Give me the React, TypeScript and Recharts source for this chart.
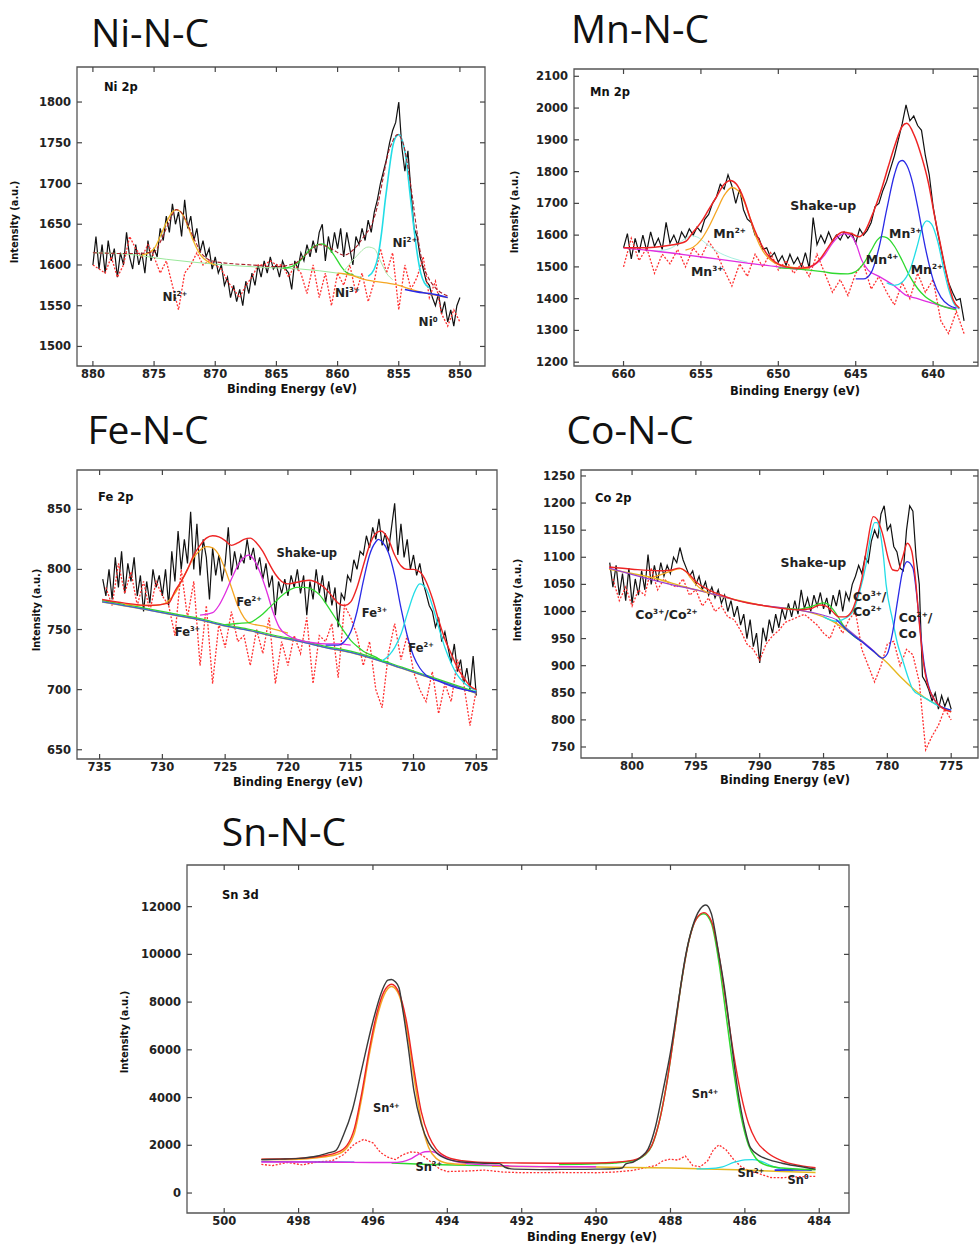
import React from "react";
import { LineChart, Line, XAxis, YAxis, ReferenceArea, ReferenceDot } from "recharts";

type Pt = { x: number; y: number };

const SANS = "'DejaVu Sans', Verdana, sans-serif";

// ---------------- Ni 2p ----------------
const niRawStart = 880;
const niRawStep = 0.25;
const niRaw = [
  1600, 1635, 1595, 1625, 1590, 1630, 1605, 1620,
  1585, 1615, 1600, 1640, 1610, 1595, 1625, 1600,
  1615, 1590, 1630, 1605, 1620, 1610, 1645, 1630,
  1660, 1640, 1675, 1650, 1665, 1635, 1680, 1645,
  1660, 1630, 1645, 1615, 1630, 1610, 1620, 1595,
  1610, 1590, 1600, 1575, 1585, 1560, 1575, 1555,
  1570, 1550, 1580, 1565, 1590, 1575, 1600, 1585,
  1605, 1590, 1610, 1595, 1600, 1585, 1605, 1595,
  1590, 1570, 1605, 1595, 1615, 1605, 1625, 1610,
  1630, 1615, 1640, 1650, 1605, 1635, 1615, 1640,
  1620, 1645, 1610, 1640, 1620, 1600, 1635, 1625,
  1645, 1630, 1655, 1640, 1665, 1680, 1700, 1715,
  1730, 1750, 1765, 1775, 1800, 1745, 1715, 1740,
  1690, 1645, 1635, 1610, 1595, 1580, 1575, 1560,
  1550, 1565, 1540, 1555, 1530, 1545, 1525, 1550,
  1560,
];
const niResStart = 880;
const niResStep = 0.5;
const niRes = [
  1600, 1595, 1590, 1610, 1585, 1600, 1635, 1620,
  1610, 1625, 1610, 1590, 1605, 1575, 1545, 1590,
  1600, 1615, 1600, 1605, 1600, 1595, 1580, 1570,
  1560, 1575, 1585, 1600, 1600, 1605, 1600, 1600,
  1585, 1600, 1590, 1565, 1600, 1560, 1590, 1550,
  1590, 1575, 1600, 1565, 1590, 1555, 1580, 1620,
  1590, 1615, 1545, 1600, 1570, 1585, 1610, 1560,
  1580, 1540, 1525, 1545,
  1530,
];
const niBg = [[880, 1615], [877, 1613], [874, 1607], [870, 1601], [866, 1597], [863, 1595], [860, 1590], [858, 1585]];
const niOrange = [[876, 1612], [875, 1620], [874.5, 1635], [874, 1652], [873.5, 1665], [873.2, 1668], [872.8, 1665], [872.3, 1650], [871.8, 1630], [871.2, 1612], [870.5, 1603], [870, 1600]];
const niGreen = [[864.5, 1596], [864, 1597], [863.5, 1600], [863, 1606], [862.5, 1615], [862, 1622], [861.3, 1626], [860.8, 1622], [860.2, 1610], [859.7, 1598], [859.2, 1590], [858.7, 1588]];
const niPale = [[859.5, 1592], [858.5, 1610], [857.5, 1622], [857, 1620], [856.5, 1605], [856, 1590], [855.5, 1582]];
const niCyan = [[857.5, 1586], [857, 1595], [856.7, 1610], [856.4, 1640], [856.1, 1680], [855.8, 1715], [855.5, 1745], [855.2, 1758], [855, 1760], [854.7, 1752], [854.4, 1730], [854.1, 1690], [853.8, 1650], [853.5, 1615], [853.2, 1590], [852.9, 1578], [852.5, 1572]];
const niBase = [[860, 1590], [859, 1588], [858, 1583], [857, 1580], [856, 1578], [855, 1575], [854, 1570], [853, 1566], [852, 1563], [851, 1560]];
const niBlue = [[854.5, 1570], [853.5, 1567], [852.5, 1565], [851.8, 1563], [851, 1560]];
const niFit = [[880, 1615], [877, 1614], [875, 1616], [874.5, 1628], [874, 1645], [873.5, 1662], [873.2, 1668], [872.8, 1665], [872.2, 1648], [871.6, 1628], [871, 1612], [870, 1604], [867, 1600], [865, 1598], [863.5, 1602], [862.5, 1614], [861.5, 1625], [860.5, 1620], [859.5, 1612], [858.5, 1622], [857.8, 1636], [857.2, 1650], [856.7, 1675], [856.3, 1705], [855.9, 1735], [855.5, 1752], [855.1, 1760], [854.7, 1752], [854.3, 1725], [853.9, 1685], [853.5, 1640], [853.1, 1605], [852.6, 1585], [852, 1572], [851, 1562]];

// ---------------- Mn 2p ----------------
const mnRawStart = 660;
const mnRawStep = 0.25;
const mnRaw = [
  1560, 1605, 1525, 1590, 1545, 1600, 1550, 1610,
  1565, 1590, 1555, 1640, 1575, 1600, 1570, 1610,
  1590, 1620, 1600, 1625, 1610, 1650, 1665, 1700,
  1720, 1760, 1745, 1790, 1755, 1700, 1745, 1680,
  1650, 1640, 1600, 1590, 1555, 1560, 1530, 1545,
  1515, 1535, 1505, 1540, 1510, 1530, 1500, 1545,
  1495, 1655, 1570, 1600, 1575, 1610, 1580, 1600,
  1585, 1610, 1590, 1605, 1575, 1620, 1600, 1615,
  1640, 1690, 1700, 1740, 1770, 1810, 1850, 1900,
  1950, 2010, 1960, 1975, 1945, 1930, 1850, 1790,
  1690, 1620, 1560, 1500, 1450, 1420, 1395, 1400,
  1330,
];
const mnResStart = 660;
const mnResStep = 0.5;
const mnRes = [
  1500, 1590, 1520, 1560, 1480, 1540, 1510, 1555,
  1500, 1560, 1530, 1580, 1545, 1490, 1440, 1510,
  1470, 1540, 1500, 1545, 1490, 1520, 1480, 1510,
  1470, 1540, 1480, 1420, 1460, 1410, 1480, 1510,
  1430, 1470, 1420, 1380, 1450, 1400, 1480, 1420,
  1460, 1330, 1290, 1360, 1290,
];
const mnPale = [[658, 1549], [657, 1558], [656.5, 1572], [656, 1590], [655.6, 1598], [655.2, 1593], [654.7, 1575], [654, 1550], [653, 1528], [652, 1515]];
const mnOrange = [[656, 1553], [655.5, 1562], [655, 1585], [654.5, 1625], [654, 1675], [653.5, 1725], [653, 1750], [652.6, 1740], [652.2, 1705], [651.8, 1650], [651.4, 1590], [651, 1550], [650.5, 1522], [650, 1507], [649, 1498], [648, 1494]];
const mnMagenta = [[660, 1560], [658, 1550], [656, 1538], [654, 1525], [652, 1512], [650, 1500], [648.6, 1493], [648, 1498], [647.5, 1512], [647, 1538], [646.5, 1575], [646, 1600], [645.7, 1605], [645.3, 1598], [645, 1575], [644.6, 1520], [644.2, 1490], [643.5, 1470], [642.5, 1440], [641.8, 1412], [641, 1400], [640, 1385], [639, 1372], [638.5, 1368]];
const mnGreen = [[650, 1497], [648, 1490], [647, 1484], [646.5, 1480], [645.5, 1478], [645, 1485], [644.5, 1510], [644, 1552], [643.6, 1585], [643.3, 1595], [643, 1592], [642.5, 1565], [642, 1520], [641.5, 1470], [641, 1432], [640.5, 1406], [640, 1390], [639.5, 1378], [639, 1370], [638.5, 1365]];
const mnBlue = [[645, 1462], [644.5, 1462], [644, 1482], [643.5, 1560], [643, 1680], [642.5, 1790], [642.2, 1830], [642, 1835], [641.7, 1820], [641.3, 1760], [641, 1690], [640.5, 1560], [640, 1460], [639.5, 1405], [639, 1380], [638.5, 1370]];
const mnCyan = [[643, 1450], [642.5, 1442], [642, 1452], [641.5, 1490], [641, 1570], [640.7, 1625], [640.4, 1645], [640.1, 1635], [639.7, 1580], [639.3, 1490], [639, 1430], [638.6, 1380], [638.3, 1368]];
const mnFit = [[660, 1560], [659, 1560], [658, 1562], [657, 1568], [656, 1580], [655.5, 1610], [655, 1640], [654.5, 1680], [654, 1720], [653.5, 1760], [653.1, 1772], [652.7, 1760], [652.2, 1710], [651.8, 1650], [651.3, 1590], [650.8, 1545], [650.2, 1515], [649.5, 1500], [648.8, 1496], [648, 1500], [647.3, 1525], [646.8, 1560], [646.3, 1595], [645.8, 1610], [645.3, 1605], [644.8, 1595], [644.4, 1612], [644, 1655], [643.3, 1750], [642.9, 1815], [642.5, 1878], [642, 1942], [641.7, 1952], [641.2, 1912], [640.75, 1848], [640.3, 1764], [639.9, 1659], [639.5, 1564], [639.1, 1470], [638.7, 1396], [638.3, 1370]];

// ---------------- Fe 2p ----------------
const feRawStart = 734.75;
const feRawStep = 0.25;
const feRaw = [
  792, 778, 800, 775, 810, 785, 815, 780,
  805, 790, 810, 778, 795, 765, 790, 772,
  800, 785, 795, 778, 800, 770, 815, 790,
  832, 800, 825, 805, 848, 800, 838, 795,
  825, 810, 775, 818, 795, 812, 790, 805,
  835, 795, 815, 800, 812, 805, 825, 808,
  818, 800, 810, 792, 805, 785, 795, 762,
  790, 780, 792, 778, 795, 785, 800, 780,
  795, 762, 790, 775, 800, 780, 795, 772,
  790, 770, 785, 752, 780, 775, 795, 790,
  808, 800, 815, 812, 828, 818, 835, 825,
  842, 820, 830, 815, 835, 855, 812, 838,
  810, 825, 800, 812, 795, 805, 790, 780,
  770, 765, 752, 760, 740, 748, 735, 722,
  738, 715, 725, 705, 718, 700, 728, 695,
];
const feResStart = 734.5;
const feResStep = 0.5;
const feRes = [
  785, 770, 805, 780, 798, 770, 790, 765,
  790, 778, 770, 745, 800, 760, 790, 720,
  770, 705, 755, 735, 765, 740, 745, 720,
  750, 730, 760, 705, 740, 720, 745, 730,
  760, 705, 745, 740, 755, 710, 770, 760,
  745, 720, 740, 700, 685, 730, 755, 725,
  745, 715, 700, 690, 715, 680, 705, 690,
  725, 705, 670, 700,
];
const feBg = [[734.8, 773], [731, 766], [729, 762], [727, 758], [725, 753], [723, 749], [721, 744], [719, 740], [717, 735], [715, 731], [713, 725], [711, 718], [709, 711], [707, 704], [705, 697]];
const feBgGreen = [[734.8, 774], [731, 767], [729, 763], [727, 759], [725, 754], [723, 750], [721, 745], [719, 741], [717, 736], [715, 732], [713, 726], [711, 719], [709, 712], [707, 705], [705, 698]];
const feOrange = [[733, 771], [731, 770], [730, 771], [729.5, 774], [729, 780], [728.5, 790], [728, 800], [727.5, 810], [727, 816], [726.5, 819], [726, 818], [725.5, 812], [725, 800], [724.5, 785], [724, 770], [723.5, 760], [723, 755], [722, 753], [721, 750], [720, 747]];
const feMagenta = [[727, 762], [726, 764], [725.5, 770], [725, 780], [724.5, 792], [724, 803], [723.5, 810], [723.1, 812], [722.7, 808], [722.2, 797], [721.7, 782], [721.2, 765], [720.7, 752], [720, 745], [719, 741], [718, 739], [717, 738], [716, 738], [715, 737]];
const feGreen = [[725, 754], [724, 755], [723, 756], [722.5, 759], [722, 763], [721.5, 768], [721, 773], [720.5, 778], [720, 782], [719.3, 785], [718.7, 785], [718, 783], [717.5, 779], [717, 772], [716.5, 764], [716, 756], [715.5, 748], [715, 741], [714.5, 736], [714, 732], [713, 727], [712.5, 724], [712, 723]];
const feBlue = [[717, 737], [716, 737], [715.5, 740], [715, 748], [714.5, 765], [714, 790], [713.5, 812], [713, 823], [712.8, 825], [712.5, 823], [712, 814], [711.5, 795], [711, 768], [710.5, 745], [710, 728], [709.5, 718], [709, 712], [708, 707], [707, 703], [706, 700], [705, 698]];
const feCyan = [[712.5, 724], [712, 728], [711.5, 735], [711, 746], [710.5, 763], [710, 779], [709.5, 788], [709, 784], [708.5, 770], [708, 752], [707.5, 735], [707, 722], [706.5, 712], [706, 706], [705, 699]];
const feFit = [[734.8, 775], [733, 772], [731, 770], [729.5, 772], [729, 782], [728.5, 790], [728, 800], [727.5, 812], [727, 820], [726.5, 826], [726, 828], [725.5, 827], [725, 824], [724.5, 820], [724, 822], [723.5, 825], [723, 826], [722.5, 822], [722, 815], [721.5, 805], [721, 796], [720.5, 790], [720, 788], [719, 790], [718.3, 791], [717.5, 788], [717, 784], [716.5, 778], [716, 772], [715.5, 770], [715, 773], [714.5, 785], [714, 803], [713.5, 820], [713, 830], [712.6, 832], [712, 825], [711.5, 812], [711, 803], [710.5, 800], [710, 800], [709.5, 798], [709, 790], [708.5, 776], [708, 758], [707.5, 742], [707, 730], [706.5, 718], [706, 710], [705.5, 703], [705, 700]];

// ---------------- Co 2p ----------------
const coRawStart = 801.75;
const coRawStep = 0.25;
const coRaw = [
  1090, 1045, 1085, 1030, 1070, 1020, 1080, 1015,
  1060, 1030, 1075, 1040, 1105, 1050, 1085, 1055,
  1090, 1065, 1085, 1070, 1100, 1090, 1118, 1095,
  1080, 1065, 1075, 1050, 1065, 1040, 1055, 1030,
  1045, 1025, 1040, 1015, 1030, 1000, 1020, 990,
  1010, 975, 995, 950, 985, 935, 960, 905,
  970, 945, 985, 960, 995, 970, 1005, 985,
  1015, 990, 1020, 995, 1040, 1005, 1025, 1000,
  1030, 1010, 1035, 1005, 1025, 995, 1030, 1010,
  1040, 1000, 1035, 1020, 1050, 1065, 1085, 1070,
  1100, 1090, 1130, 1150, 1135, 1180, 1195, 1150,
  1160, 1120, 1110, 1080, 1075, 1150, 1195, 1185,
  1100, 1050, 880, 870, 855, 835, 850, 820,
  845, 825, 840, 820,
];
const coResStart = 801.5;
const coResStep = 0.5;
const coRes = [
  1060, 1020, 1045, 1010, 1040, 1030, 1080, 1040,
  1060, 1050, 1045, 1060, 1030, 1040, 1010, 1025,
  1000, 1010, 990, 985, 965, 940, 930, 910,
  940, 955, 965, 980, 985, 990, 995, 985,
  975, 960, 950, 980, 960, 985, 1000, 930,
  900, 870, 900, 940, 945, 900, 930, 920,
  870, 745, 770, 790, 820, 800,
];
const coBg = [[801.8, 1078], [800, 1070], [798, 1060], [796, 1046], [794, 1034], [792, 1022], [790, 1012], [788, 1006], [786, 998], [785, 990], [784, 978], [783, 962], [782, 945], [781, 925], [780, 905], [779, 880], [778, 858], [777, 840], [776, 827], [775, 815]];
const coPurple = [[801.8, 1080], [799, 1062], [797, 1050], [795, 1040], [793, 1028], [791, 1016], [789, 1009], [787, 1003], [785, 993], [784, 985], [783, 965], [782, 946], [781, 926]];
const coOrange = [[798.5, 1062], [798, 1066], [797.5, 1070], [797, 1074], [796.5, 1078], [796.2, 1079], [795.8, 1074], [795.4, 1062], [795, 1050], [794.5, 1040], [794, 1034]];
const coGreen = [[788, 1006], [787, 1004], [786.5, 1006], [786, 1009], [785.5, 1013], [785, 1016], [784.6, 1013], [784.2, 1002], [783.8, 988], [783.4, 972], [783, 962], [782.5, 952], [782, 945]];
const coCyan = [[785, 990], [784, 982], [783.5, 985], [783, 992], [782.7, 1000], [782.2, 1034], [781.7, 1083], [781.3, 1140], [781, 1164], [780.8, 1164], [780.6, 1150], [780.3, 1100], [780.1, 1050], [779.6, 985], [779.2, 940], [778.8, 910], [778.4, 880], [778, 856], [777.4, 845], [776.8, 837], [776, 826], [775, 818]];
const coBlue = [[784, 985], [783, 962], [782, 944], [781, 925], [780.4, 914], [780, 922], [779.6, 960], [779.2, 1020], [778.8, 1075], [778.44, 1092], [778, 1080], [777.7, 1030], [777.4, 960], [777.1, 900], [776.8, 865], [776.4, 840], [776, 828], [775, 818]];
const coFit = [[801.8, 1082], [800, 1078], [798, 1075], [797, 1076], [796.3, 1080], [795.5, 1068], [795, 1055], [794, 1040], [793, 1030], [792, 1022], [791, 1016], [790, 1012], [789, 1008], [788, 1005], [787, 1003], [786, 1005], [785.3, 1012], [784.8, 1010], [784.3, 1000], [783.8, 990], [783.3, 990], [782.8, 1000], [782.4, 1025], [782, 1060], [781.6, 1120], [781.1, 1175], [780.8, 1170], [780.4, 1145], [779.9, 1095], [779.6, 1077], [779.2, 1075], [778.8, 1100], [778.44, 1126], [778.1, 1112], [777.8, 1060], [777.5, 980], [777.2, 910], [776.9, 870], [776.5, 845], [776, 828], [775, 815]];

// ---------------- Sn 3d ----------------
const snRaw = [[499, 1400], [498.5, 1420], [498, 1450], [497.5, 1550], [497.2, 1680], [497, 1780], [496.8, 2400], [496.55, 3500], [496.3, 5200], [496, 7200], [495.75, 8500], [495.6, 8920], [495.5, 8950], [495.4, 8850], [495.3, 8600], [495.2, 7700], [495.05, 6100], [494.9, 4300], [494.7, 2900], [494.5, 2100], [494.3, 1700], [494, 1420], [493.6, 1300], [493, 1250], [492.6, 1230], [492.45, 1080], [492.2, 1000], [491.5, 980], [491, 990], [490.5, 990], [490, 1000], [489.5, 1020], [489.3, 1050], [489.2, 1220], [489, 1300], [488.8, 1500], [488.6, 1850], [488.4, 2800], [488.2, 4300], [488, 5900], [487.8, 7900], [487.6, 9900], [487.4, 11200], [487.2, 11900], [487.05, 12070], [486.9, 11700], [486.7, 10000], [486.55, 8600], [486.4, 6800], [486.2, 4400], [486, 2700], [485.85, 1900], [485.6, 1560], [485.4, 1420], [485, 1250], [484.6, 1130], [484.1, 1000]];
const snRes = [[499, 1200], [498.7, 1150], [498.3, 1280], [497.9, 1180], [497.5, 1300], [497.1, 1350], [496.8, 1600], [496.5, 2050], [496.25, 2250], [496, 2100], [495.8, 1700], [495.6, 1500], [495.4, 1400], [495.2, 1600], [495, 1720], [494.8, 1700], [494.6, 1500], [494.4, 1250], [494.2, 1000], [494, 900], [493.5, 920], [493, 960], [492.5, 880], [492, 850], [491, 860], [490, 850], [489.5, 880], [489, 950], [488.7, 1050], [488.4, 1150], [488.2, 1350], [488, 1420], [487.8, 1380], [487.6, 1550], [487.4, 1150], [487.2, 1100], [487, 1350], [486.85, 1800], [486.7, 2020], [486.5, 1800], [486.3, 1400], [486.1, 1100], [485.9, 950], [485.6, 800], [485.3, 650], [485, 640], [484.6, 680], [484.1, 700]];
const snBlueBg = [[499, 1320], [497.5, 1300], [496.5, 1290]];
const snMagenta = [[499, 1300], [498, 1300], [497, 1290], [496, 1280], [495.5, 1280], [495.2, 1320], [495, 1420], [494.8, 1600], [494.6, 1730], [494.45, 1740], [494.3, 1680], [494.1, 1520], [493.9, 1380], [493.6, 1260], [493.2, 1200], [492.5, 1150], [492, 1120], [491, 1100], [490, 1100]];
const snGreenBg = [[495.5, 1260], [494.5, 1200], [493.5, 1160], [492.5, 1140]];
const snOrange = [[499, 1400], [498, 1420], [497.5, 1480], [497, 1600], [496.7, 1900], [496.5, 2500], [496.3, 4000], [496.1, 5800], [495.9, 7300], [495.7, 8300], [495.5, 8650], [495.3, 8300], [495.1, 7000], [494.9, 4900], [494.7, 3000], [494.5, 1900], [494.3, 1450], [494, 1250], [493.5, 1200]];
const snGreen = [[491, 1200], [490, 1230], [489.5, 1260], [489, 1350], [488.7, 1580], [488.5, 1980], [488.3, 3000], [488.1, 4600], [487.9, 6700], [487.7, 8900], [487.5, 10600], [487.3, 11500], [487.1, 11700], [486.9, 11300], [486.7, 9700], [486.5, 7400], [486.3, 5100], [486.1, 3200], [485.9, 2000], [485.7, 1450], [485.4, 1150], [485, 1050], [484.5, 1000], [484.1, 980]];
const snYellowBg = [[492.8, 1120], [490, 1090], [488, 1050], [487, 1010], [486, 960], [485, 900], [484.1, 860]];
const snCyan = [[487.3, 1010], [487, 1020], [486.6, 1100], [486.3, 1280], [486, 1390], [485.8, 1400], [485.6, 1350], [485.3, 1150], [485, 1000], [484.7, 940]];
const snBlue = [[485.2, 960], [484.8, 970], [484.5, 965], [484.2, 960]];
const snFit = [[499, 1420], [498, 1450], [497.5, 1520], [497, 1680], [496.7, 2000], [496.5, 2700], [496.3, 4200], [496.1, 6000], [495.9, 7500], [495.7, 8450], [495.5, 8750], [495.3, 8400], [495.1, 7200], [494.9, 5200], [494.7, 3400], [494.5, 2400], [494.3, 1850], [494, 1500], [493.6, 1350], [493, 1280], [492, 1260], [491, 1250], [490, 1260], [489.5, 1290], [489, 1380], [488.7, 1600], [488.5, 2000], [488.3, 3000], [488.1, 4600], [487.9, 6700], [487.7, 8900], [487.5, 10600], [487.3, 11500], [487.1, 11750], [486.9, 11400], [486.7, 10000], [486.5, 7900], [486.3, 5800], [486.1, 4100], [485.9, 2900], [485.7, 2200], [485.4, 1700], [485, 1350], [484.5, 1150], [484.1, 1060]];

// ---------------- helpers ----------------
const grid = (start: number, step: number, ys: number[]): Pt[] =>
  ys.map((y, i) => ({ x: +(start - i * step).toFixed(2), y }));
const pts = (arr: number[][]): Pt[] => arr.map(([x, y]) => ({ x, y }));

const BLACK = "#111";
const RED = "#ee2424";
const DOT = "#ff3030";
const ORANGE = "#f5a623";
const MAGENTA = "#e02ee0";
const GREEN = "#2fd92f";
const BLUE = "#2a2ae6";
const CYAN = "#22dde6";

type Series = { data: Pt[]; color: string; w?: number; dash?: string; curve?: "linear" | "monotone" };
type Part = string | [string];
type Lbl = { x: number; y: number; parts: Part[]; anchor?: "start" | "middle" };

interface PanelCfg {
  title: string;
  titleAt: [number, number];
  plot: [number, number, number, number];
  xDomain: [number, number];
  yDomain: [number, number];
  xTicks: number[];
  yTicks: number[];
  tag: string;
  tagAt: [number, number];
  xTitleAt: [number, number];
  yTitleAt: [number, number];
  labelSize: number;
  series: Series[];
  labels: Lbl[];
}

const raw = (data: Pt[]): Series => ({ data, color: BLACK, w: 1.2 });
const res = (data: Pt[]): Series => ({ data, color: DOT, w: 1.3, dash: "2 1.6" });
const comp = (data: Pt[], color: string, w = 1.3): Series => ({ data, color, w, curve: "monotone" });

const panels: PanelCfg[] = [
  {
    title: "Ni-N-C",
    titleAt: [150, 31],
    plot: [77, 67, 408, 299],
    xDomain: [847.95, 881.3],
    yDomain: [1476, 1843],
    xTicks: [880, 875, 870, 865, 860, 855, 850],
    yTicks: [1500, 1550, 1600, 1650, 1700, 1750, 1800],
    tag: "Ni 2p",
    tagAt: [104, 88],
    xTitleAt: [292, 390],
    yTitleAt: [15, 222],
    labelSize: 12,
    series: [
      raw(grid(niRawStart, niRawStep, niRaw)),
      res(grid(niResStart, niResStep, niRes)),
      comp(pts(niBg), "#9be89b", 1),
      comp(pts(niOrange), "#f2b824"),
      comp(pts(niGreen), GREEN),
      comp(pts(niPale), "#a8e8a8", 1),
      comp(pts(niBase), ORANGE),
      comp(pts(niBlue), BLUE, 1.6),
      comp(pts(niCyan), CYAN, 1.6),
      { data: pts(niFit), color: "#a8202a", w: 1.1, dash: "4 2", curve: "monotone" },
    ],
    labels: [
      { x: 873.3, y: 1561, parts: ["Ni", ["2+"]] },
      { x: 859.2, y: 1566, parts: ["Ni", ["3+"]] },
      { x: 854.5, y: 1627, parts: ["Ni", ["2+"]] },
      { x: 852.6, y: 1530, parts: ["Ni", ["0"]] },
    ],
  },
  {
    title: "Mn-N-C",
    titleAt: [640, 27],
    plot: [574, 69, 404, 297],
    xDomain: [637.1, 663.2],
    yDomain: [1188, 2123],
    xTicks: [660, 655, 650, 645, 640],
    yTicks: [1200, 1300, 1400, 1500, 1600, 1700, 1800, 1900, 2000, 2100],
    tag: "Mn 2p",
    tagAt: [590, 93],
    xTitleAt: [795, 392],
    yTitleAt: [515, 212],
    labelSize: 12.5,
    series: [
      raw(grid(mnRawStart, mnRawStep, mnRaw)),
      res(grid(mnResStart, mnResStep, mnRes)),
      comp(pts(mnPale), "#a6f0e0", 1),
      comp(pts(mnMagenta), MAGENTA),
      comp(pts(mnOrange), ORANGE),
      comp(pts(mnGreen), GREEN),
      comp(pts(mnCyan), CYAN),
      comp(pts(mnBlue), BLUE),
      comp(pts(mnFit), RED, 1.5),
    ],
    labels: [
      { x: 647.1, y: 1693, parts: ["Shake-up"] },
      { x: 653.15, y: 1606, parts: ["Mn", ["2+"]] },
      { x: 654.6, y: 1485, parts: ["Mn", ["3+"]] },
      { x: 643.3, y: 1522, parts: ["Mn", ["4+"]] },
      { x: 641.8, y: 1606, parts: ["Mn", ["3+"]] },
      { x: 640.4, y: 1491, parts: ["Mn", ["2+"]] },
    ],
  },
  {
    title: "Fe-N-C",
    titleAt: [148, 428],
    plot: [77, 470, 420, 289],
    xDomain: [703.35, 736.8],
    yDomain: [642.3, 882.7],
    xTicks: [735, 730, 725, 720, 715, 710, 705],
    yTicks: [650, 700, 750, 800, 850],
    tag: "Fe 2p",
    tagAt: [98, 498],
    xTitleAt: [298, 783],
    yTitleAt: [37, 610],
    labelSize: 11.5,
    series: [
      raw(grid(feRawStart, feRawStep, feRaw)),
      res(grid(feResStart, feResStep, feRes)),
      comp(pts(feBg), "#e6c020", 1.6),
      comp(pts(feBgGreen), GREEN, 1.2),
      comp(pts(feBg), "#3a60d8", 1.2),
      comp(pts(feOrange), ORANGE),
      comp(pts(feMagenta), MAGENTA),
      comp(pts(feGreen), GREEN),
      comp(pts(feBlue), BLUE),
      comp(pts(feCyan), CYAN),
      comp(pts(feFit), RED, 1.4),
    ],
    labels: [
      { x: 718.5, y: 814, parts: ["Shake-up"] },
      { x: 723.1, y: 773, parts: ["Fe", ["2+"]] },
      { x: 728.0, y: 748, parts: ["Fe", ["3+"]] },
      { x: 713.1, y: 764, parts: ["Fe", ["3+"]] },
      { x: 709.4, y: 735, parts: ["Fe", ["2+"]] },
    ],
  },
  {
    title: "Co-N-C",
    titleAt: [630, 428],
    plot: [581, 470, 397, 288],
    xDomain: [772.9, 804.0],
    yDomain: [729.7, 1261],
    xTicks: [800, 795, 790, 785, 780, 775],
    yTicks: [750, 800, 850, 900, 950, 1000, 1050, 1100, 1150, 1200, 1250],
    tag: "Co 2p",
    tagAt: [595, 499],
    xTitleAt: [785, 781],
    yTitleAt: [518, 600],
    labelSize: 12.5,
    series: [
      raw(grid(coRawStart, coRawStep, coRaw)),
      res(grid(coResStart, coResStep, coRes)),
      comp(pts(coBg), "#e6b820", 1.4),
      comp(pts(coPurple), "#9a40d0", 1.1),
      comp(pts(coOrange), ORANGE),
      comp(pts(coGreen), GREEN),
      comp(pts(coCyan), CYAN),
      comp(pts(coBlue), BLUE),
      comp(pts(coFit), RED, 1.4),
    ],
    labels: [
      { x: 785.8, y: 1090, parts: ["Shake-up"] },
      { x: 797.3, y: 994, parts: ["Co", ["3+"], "/Co", ["2+"]] },
      { x: 782.7, y: 1028, parts: ["Co", ["3+"], "/"], anchor: "start" },
      { x: 782.7, y: 1000, parts: ["Co", ["2+"]], anchor: "start" },
      { x: 779.1, y: 988, parts: ["Co", ["2+"], "/"], anchor: "start" },
      { x: 779.1, y: 960, parts: ["Co"], anchor: "start" },
    ],
  },
  {
    title: "Sn-N-C",
    titleAt: [284, 830],
    plot: [187, 865, 662, 348],
    xDomain: [483.2, 501.0],
    yDomain: [-837, 13745],
    xTicks: [500, 498, 496, 494, 492, 490, 488, 486, 484],
    yTicks: [0, 2000, 4000, 6000, 8000, 10000, 12000],
    tag: "Sn 3d",
    tagAt: [222, 896],
    xTitleAt: [592, 1238],
    yTitleAt: [125, 1032],
    labelSize: 11.5,
    series: [
      res(pts(snRes)),
      comp(pts(snBlueBg), "#3a60d8", 1.3),
      comp(pts(snGreenBg), GREEN, 1.5),
      comp(pts(snYellowBg), "#e6b820", 1.5),
      comp(pts(snMagenta), MAGENTA),
      comp(pts(snCyan), CYAN),
      comp(pts(snBlue), BLUE, 1.6),
      comp(pts(snOrange), ORANGE, 1.5),
      comp(pts(snGreen), GREEN, 1.5),
      comp(pts(snFit), RED, 1.4),
      { data: pts(snRaw), color: "#3a3a3a", w: 1.4, curve: "monotone" },
    ],
    labels: [
      { x: 495.64, y: 3558, parts: ["Sn", ["4+"]] },
      { x: 494.5, y: 1117, parts: ["Sn", ["2+"]] },
      { x: 487.07, y: 4144, parts: ["Sn", ["4+"]] },
      { x: 485.84, y: 838, parts: ["Sn", ["2+"]] },
      { x: 484.57, y: 560, parts: ["Sn", ["0"]] },
    ],
  },
];

// ---------------- drawing ----------------
const PAD = 3;
const YW = 70;
const XH = 40;

function XTick(props: any) {
  const { x, payload, gTop, gBottom } = props;
  return (
    <g>
      <line x1={x} x2={x} y1={gBottom} y2={gBottom - 5} stroke="#444" strokeWidth={1.2} />
      <line x1={x} x2={x} y1={gTop} y2={gTop + 5} stroke="#444" strokeWidth={1.2} />
      <text x={x} y={gBottom + 12} textAnchor="middle" fontFamily={SANS} fontWeight="bold" fontSize={11.5} fill="#222">
        {payload.value}
      </text>
    </g>
  );
}

function YTick(props: any) {
  const { y, payload, gLeft, gRight } = props;
  return (
    <g>
      <line x1={gLeft} x2={gLeft + 5} y1={y} y2={y} stroke="#444" strokeWidth={1.2} />
      <line x1={gRight} x2={gRight - 5} y1={y} y2={y} stroke="#444" strokeWidth={1.2} />
      <text x={gLeft - 6} y={y + 4} textAnchor="end" fontFamily={SANS} fontWeight="bold" fontSize={11.5} fill="#222">
        {payload.value}
      </text>
    </g>
  );
}

function ChemText({ cx, cy, parts, size, anchor }: { cx: number; cy: number; parts: Part[]; size: number; anchor: string }) {
  const up = size * 0.4;
  let raised = false;
  const spans = parts.map((p, i) => {
    const sup = Array.isArray(p);
    let dy: number | undefined;
    if (sup && !raised) {
      dy = -up;
      raised = true;
    } else if (!sup && raised) {
      dy = up;
      raised = false;
    }
    return (
      <tspan key={i} dy={dy} fontSize={sup ? size * 0.58 : size}>
        {sup ? (p as [string])[0] : (p as string)}
      </tspan>
    );
  });
  return (
    <text x={cx} y={cy + size * 0.36} textAnchor={anchor} fontFamily={SANS} fontWeight="bold" fontSize={size} fill="#222">
      {spans}
    </text>
  );
}

function Panel({ cfg }: { cfg: PanelCfg }) {
  const [left, top, w, h] = cfg.plot;
  const gTop = PAD;
  const gBottom = PAD + h;
  const text: React.CSSProperties = { position: "absolute", whiteSpace: "nowrap", color: "#111" };
  return (
    <>
      <div
        style={{
          ...text,
          left: cfg.titleAt[0],
          top: cfg.titleAt[1],
          transform: "translate(-50%, -50%)",
          fontFamily: "'Open Sans', sans-serif",
          fontSize: 39,
          lineHeight: 1,
        }}
      >
        {cfg.title}
      </div>
      <div style={{ position: "absolute", left: left - YW, top: top - PAD }}>
        <LineChart width={YW + w + PAD} height={PAD + h + XH} margin={{ top: PAD, right: PAD, bottom: 0, left: 0 }}>
          <XAxis
            dataKey="x"
            type="number"
            domain={cfg.xDomain}
            reversed
            allowDataOverflow
            ticks={cfg.xTicks}
            interval={0}
            height={XH}
            axisLine={false}
            tickLine={false}
            tick={<XTick gTop={gTop} gBottom={gBottom} />}
          />
          <YAxis
            type="number"
            domain={cfg.yDomain}
            allowDataOverflow
            ticks={cfg.yTicks}
            interval={0}
            width={YW}
            axisLine={false}
            tickLine={false}
            tick={<YTick gLeft={YW} gRight={YW + w} />}
          />
          <ReferenceArea
            x1={cfg.xDomain[0]}
            x2={cfg.xDomain[1]}
            y1={cfg.yDomain[0]}
            y2={cfg.yDomain[1]}
            fill="none"
            fillOpacity={0}
            stroke="#555"
            strokeWidth={1.3}
            ifOverflow="visible"
          />
          {cfg.series.map((s, i) => (
            <Line
              key={i}
              data={s.data}
              dataKey="y"
              type={s.curve ?? "linear"}
              stroke={s.color}
              strokeWidth={s.w ?? 1}
              strokeDasharray={s.dash}
              dot={false}
              activeDot={false}
              isAnimationActive={false}
            />
          ))}
          {cfg.labels.map((l, i) => (
            <ReferenceDot
              key={"l" + i}
              x={l.x}
              y={l.y}
              r={1}
              ifOverflow="visible"
              shape={(p: any) => (
                <ChemText cx={p.cx} cy={p.cy} parts={l.parts} size={cfg.labelSize} anchor={l.anchor ?? "middle"} />
              )}
            />
          ))}
        </LineChart>
      </div>
      <div
        style={{
          ...text,
          left: cfg.tagAt[0],
          top: cfg.tagAt[1],
          transform: "translateY(-50%)",
          fontFamily: SANS,
          fontWeight: "bold",
          fontSize: 11.5,
          lineHeight: 1,
        }}
      >
        {cfg.tag}
      </div>
      <div
        style={{
          ...text,
          left: cfg.xTitleAt[0],
          top: cfg.xTitleAt[1],
          transform: "translate(-50%, -50%)",
          fontFamily: SANS,
          fontWeight: "bold",
          fontSize: 11.5,
          lineHeight: 1,
        }}
      >
        Binding Energy (eV)
      </div>
      <div
        style={{
          ...text,
          left: cfg.yTitleAt[0],
          top: cfg.yTitleAt[1],
          transform: "translate(-50%, -50%) rotate(-90deg)",
          fontFamily: SANS,
          fontWeight: "bold",
          fontSize: 9.8,
          lineHeight: 1,
        }}
      >
        Intensity (a.u.)
      </div>
    </>
  );
}

export default function App() {
  return (
    <div style={{ position: "absolute", left: 0, top: 0, width: 980, height: 1248, background: "#fff", overflow: "hidden" }}>
      {panels.map((p, i) => (
        <Panel key={i} cfg={p} />
      ))}
    </div>
  );
}
